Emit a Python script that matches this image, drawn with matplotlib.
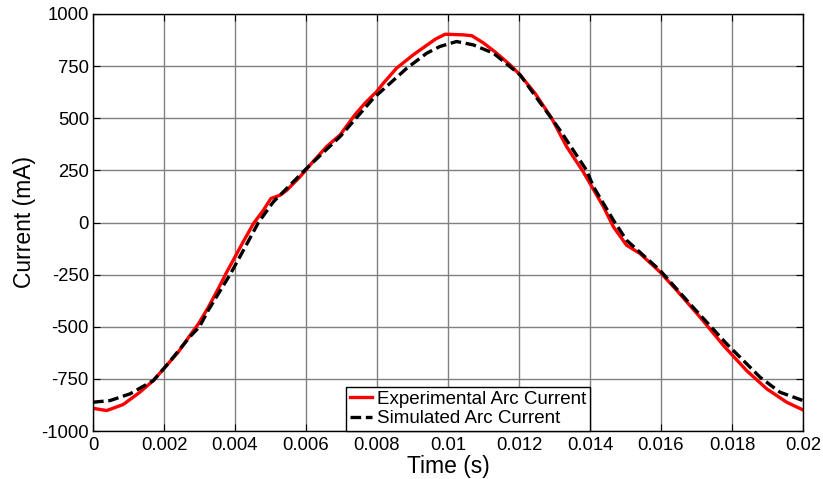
import matplotlib
matplotlib.use("Agg")
import matplotlib.pyplot as plt

# experimental arc current: time (s), current (mA)
t_exp = [0, 0.000385, 0.00085, 0.00132, 0.0017, 0.00207, 0.0024, 0.00273,
         0.00297, 0.00325, 0.00353, 0.00377, 0.00395, 0.00423, 0.00452,
         0.0048, 0.00501, 0.00527, 0.00546, 0.00583, 0.00611, 0.00658,
         0.00696, 0.00738, 0.00766, 0.00799, 0.00818, 0.00855, 0.00902,
         0.00935, 0.00965, 0.00992, 0.01043, 0.01067, 0.011, 0.01137,
         0.01175, 0.01203, 0.01245, 0.01292, 0.01334, 0.01381, 0.014,
         0.01438, 0.01466, 0.01503, 0.01541, 0.01597, 0.01644, 0.0171,
         0.01776, 0.01841, 0.01898, 0.01954, 0.02]
i_exp = [-891, -902, -873, -814, -758, -686, -622, -542,
         -486, -406, -317, -237, -181, -93, -5,
         59, 115, 131, 155, 219, 275, 364,
         420, 517, 572, 628, 668, 740, 804,
         844, 880, 903, 900, 896, 861, 812,
         756, 708, 620, 500, 364, 243, 187,
         75, -21, -109, -149, -237, -325, -454,
         -590, -710, -798, -862, -899]

# simulated arc current
t_sim = [0, 0.00048, 0.00104, 0.0017, 0.00207, 0.00273, 0.003, 0.00325,
         0.00386, 0.00428, 0.00466, 0.00508, 0.00602, 0.00696, 0.0079,
         0.00837, 0.00884, 0.0094, 0.00977, 0.01024, 0.01071, 0.01128,
         0.01203, 0.01315, 0.0139, 0.0141, 0.01466, 0.01503, 0.0155,
         0.01597, 0.0169, 0.01785, 0.01879, 0.01935, 0.02]
i_sim = [-862, -854, -822, -758, -686, -548, -500, -420,
         -250, -120, 0, 99, 260, 412, 596,
         668, 740, 812, 844, 868, 852, 812,
         708, 444, 251, 171, 11, -85, -157,
         -229, -406, -582, -742, -814, -854]

xticks = [0, 0.002, 0.004, 0.006, 0.008, 0.01, 0.012, 0.014, 0.016, 0.018, 0.02]
xticklabels = ['0', '0.002', '0.004', '0.006', '0.008', '0.01', '0.012',
               '0.014', '0.016', '0.018', '0.02']
yticks = [-1000, -750, -500, -250, 0, 250, 500, 750, 1000]

plt.rcParams['font.family'] = ['Liberation Sans', 'DejaVu Sans']
plt.rcParams['axes.unicode_minus'] = False

fig = plt.figure(figsize=(8.23, 4.79), dpi=100)
ax = fig.add_axes([93 / 823, 1 - 431 / 479, 710 / 823, 417 / 479])

ax.plot(t_exp, i_exp, color='red', lw=2.4, label='Experimental Arc Current',
        solid_joinstyle='round')
ax.plot(t_sim, i_sim, color='black', lw=2.4, ls=(0, (3.2, 1.4)),
        label='Simulated Arc Current')

ax.set_xlim(0, 0.02)
ax.set_ylim(-1000, 1000)
ax.set_xticks(xticks)
ax.set_xticklabels(xticklabels)
ax.set_yticks(yticks)
ax.grid(True, color='#808080', lw=1, ls='-')
ax.set_axisbelow(True)
ax.tick_params(direction='in', top=True, right=True, length=5, labelsize=13.3,
               width=0.8)
ax.tick_params(axis='y', pad=3)
ax.tick_params(axis='x', pad=4)
for s in ax.spines.values():
    s.set_linewidth(1.0)

ax.set_xlabel('Time (s)', fontsize=16.5, labelpad=1)
ax.set_ylabel('Current (mA)', fontsize=16.5, labelpad=4)

leg = ax.legend(loc='lower center', bbox_to_anchor=(0.528, 0.0), fontsize=13.5,
                frameon=True, fancybox=False, framealpha=1, edgecolor='black',
                borderaxespad=0, handlelength=1.2, handletextpad=0.25,
                labelspacing=0.12, borderpad=0.2)
leg.get_frame().set_linewidth(1.0)

fig.savefig('out.png', dpi=100)
